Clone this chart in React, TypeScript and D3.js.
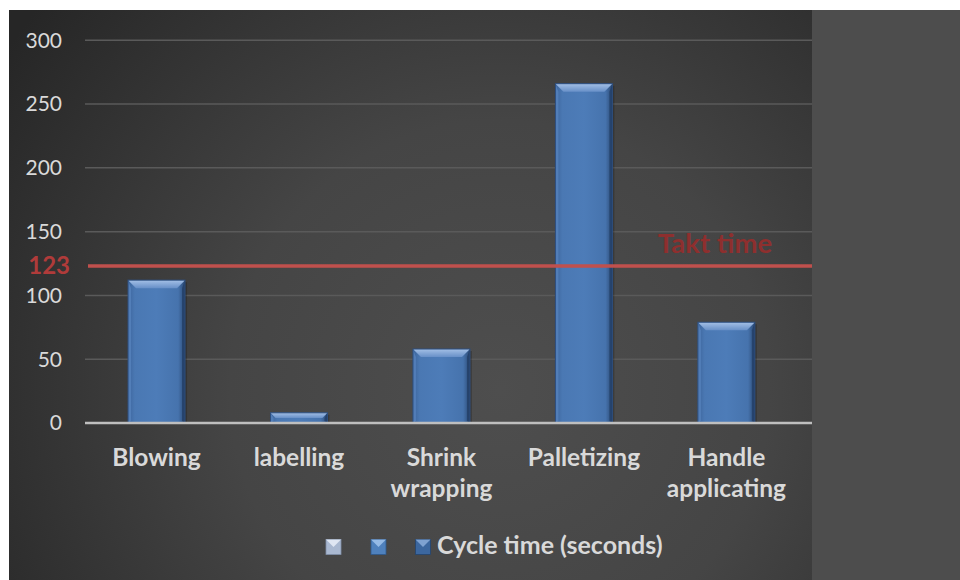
import React from "react";
import * as d3 from "d3";

const categories = ["Blowing", "labelling", "Shrink wrapping", "Palletizing", "Handle applicating"];
const categoryLines = [["Blowing"], ["labelling"], ["Shrink", "wrapping"], ["Palletizing"], ["Handle", "applicating"]];
const cycleTimes = [112, 8, 58, 266, 79];
const taktTime = 123;
const yTicks = [0, 50, 100, 150, 200, 250, 300];
const legendLabel = "Cycle time (seconds)";
const taktLabel = "Takt time";

const W = 960;
const H = 580;
const FONT = "Lato, 'Open Sans', sans-serif";
const TEXT = "#d9d9d9";

export default function App() {
  const x = d3.scaleBand<string>().domain(categories).range([85.3, 797.6]).paddingInner(0.6).paddingOuter(0.3);
  const y = d3.scaleLinear().domain([0, 300]).range([423, 40.3]);
  const bw = x.bandwidth();
  const bev = 8;

  const legendMarkers = [
    { x: 326, c: "#a9b8d0", light: "#e4ebf5", dark: "#7f8ea8" },
    { x: 371, c: "#4f81bd", light: "#9cc0ea", dark: "#2f5a8e" },
    { x: 415.5, c: "#3c679f", light: "#86a9d6", dark: "#24456f" },
  ];

  return (
    <svg width={W} height={H} style={{ position: "absolute", left: 0, top: 0 }} fontFamily={FONT}>
      <defs>
        <radialGradient id="bg" gradientUnits="userSpaceOnUse" cx={500} cy={390} r={600}>
          <stop offset="0" stopColor="#4e4e4e" />
          <stop offset="0.45" stopColor="#454545" />
          <stop offset="1" stopColor="#262626" />
        </radialGradient>
        <linearGradient id="barBody" x1="0" x2="1" y1="0" y2="0">
          <stop offset="0" stopColor="#3d659c" />
          <stop offset="0.12" stopColor="#4a78b3" />
          <stop offset="0.5" stopColor="#4d7cb8" />
          <stop offset="0.88" stopColor="#4673ad" />
          <stop offset="1" stopColor="#2c4a75" />
        </linearGradient>
        <linearGradient id="barTop" x1="0" x2="0" y1="0" y2="1">
          <stop offset="0" stopColor="#a4c0e6" />
          <stop offset="1" stopColor="#6890c8" />
        </linearGradient>
      </defs>
      <rect x={0} y={0} width={W} height={H} fill="#ffffff" />
      <rect x={9} y={10} width={803} height={570} fill="url(#bg)" />
      <rect x={812} y={10} width={148} height={570} fill="#4d4d4d" />

      {yTicks.filter((t) => t > 0).map((t) => (
        <line key={t} x1={85} x2={812} y1={y(t)} y2={y(t)} stroke="#5a5a5a" strokeWidth={1.5} />
      ))}

      {yTicks.map((t) => (
        <text key={t} x={62} y={y(t)} dy="0.35em" textAnchor="end" fontSize={21} fill={TEXT}>
          {t}
        </text>
      ))}

      {categories.map((c, i) => {
        const x0 = x(c)!;
        const x1 = x0 + bw;
        const y0 = y(cycleTimes[i]);
        const y1 = y(0);
        const b = Math.min(bev, (y1 - y0) / 2);
        return (
          <g key={c}>
            <rect x={x0 + 2} y={y0 + 2} width={bw} height={y1 - y0 - 2} fill="#000" opacity={0.2} />
            <rect x={x0} y={y0} width={bw} height={y1 - y0} fill="url(#barBody)" />
            <polygon
              points={`${x0},${y0} ${x1},${y0} ${x1 - b},${y0 + b} ${x0 + b},${y0 + b}`}
              fill="url(#barTop)"
            />
            <polygon
              points={`${x0},${y0} ${x0 + 3},${y0 + b} ${x0 + 3},${y1 - 2} ${x0},${y1}`}
              fill="#5a86c0"
              opacity={0.7}
            />
            <polygon
              points={`${x1},${y0} ${x1 - 3},${y0 + b} ${x1 - 3},${y1 - 2} ${x1},${y1}`}
              fill="#233f66"
              opacity={0.8}
            />
            <rect x={x0} y={y0} width={bw} height={y1 - y0} fill="none" stroke="#2d4e7e" strokeWidth={1} />
          </g>
        );
      })}

      <line x1={85} x2={812} y1={y(0)} y2={y(0)} stroke="#bfbfbf" strokeWidth={2.5} />

      <line x1={88} x2={812} y1={y(taktTime)} y2={y(taktTime)} stroke="#c0504d" strokeWidth={3.5} />
      <text x={70} y={y(taktTime)} dy="0.35em" textAnchor="end" fontSize={24} fontWeight="bold" fill="#b03b3a">
        {taktTime}
      </text>
      <text x={715} y={253} textAnchor="middle" fontSize={27.5} fontWeight="bold" fill="#8e2f2e">
        {taktLabel}
      </text>

      {categories.map((c, i) => (
        <text key={c} x={x(c)! + bw / 2} y={466} textAnchor="middle" fontSize={24.5} fontWeight="bold" fill={TEXT}>
          {categoryLines[i].map((ln, j) => (
            <tspan key={j} x={x(c)! + bw / 2} dy={j === 0 ? 0 : 31}>
              {ln}
            </tspan>
          ))}
        </text>
      ))}

      {legendMarkers.map((m, i) => (
        <g key={i}>
          <rect x={m.x} y={539.5} width={15} height={15} fill={m.c} stroke={m.dark} strokeWidth={0.8} />
          <polygon points={`${m.x},${539.5} ${m.x + 15},${539.5} ${m.x + 7.5},${547}`} fill={m.light} opacity={0.9} />
        </g>
      ))}
      <text x={437} y={554} fontSize={25} fontWeight="bold" fill={TEXT}>
        {legendLabel}
      </text>
    </svg>
  );
}
